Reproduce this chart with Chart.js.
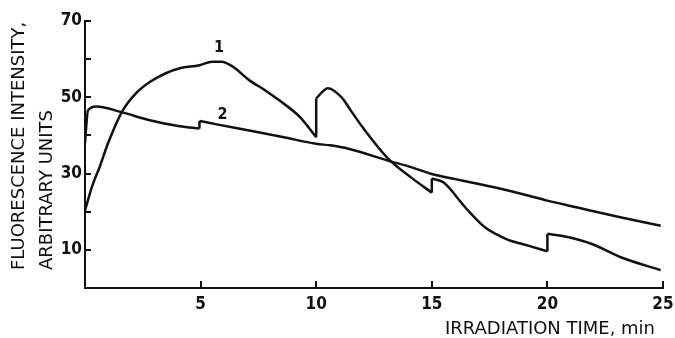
<!DOCTYPE html>
<html>
<head>
<meta charset="utf-8">
<script src="https://cdn.jsdelivr.net/npm/chart.js@4"></script>
<style>
  html, body { margin: 0; padding: 0; background: #fff; }
</style>
</head>
<body>
<canvas id="graficoFluorescencia" width="675" height="338"></canvas>
<script>
// curva 1 (x repetido = salto vertical)
const curva1X = [0, 0.3, 0.65, 1.0, 1.58, 2.2, 2.8, 3.5, 4.1, 4.95, 5.5, 5.9, 6.4, 7.1, 7.8, 8.4, 9.3, 10.0,
                 10.0, 10.5, 11.1, 11.5, 12.0, 13.1, 14.1, 15.0,
                 15.0, 15.5, 16.45, 17.3, 18.2, 19.2, 20.0,
                 20.0, 20.6, 21.9, 23.2, 24.9];
const curva1Y = [20.3, 26.5, 32, 38, 46, 51, 54, 56.3, 57.6, 58.4, 59.3, 59.3, 58, 54.5, 51.8, 49.2, 44.8, 39.5,
                 49.7, 52.4, 50, 46.5, 42.2, 34, 29, 25,
                 28.7, 27.7, 21.1, 15.9, 12.9, 11.05, 9.6,
                 14.2, 13.7, 11.6, 8, 4.7];

// curva 2
const curva2X = [0, 0.13, 0.5, 1.58, 2.8, 4.1, 4.95,
                 4.95, 5.7, 7.1, 8.55, 10.0, 10.6, 11.4, 13.1, 14.1, 15.0, 16.3, 17.7, 19.2, 20.0, 21.3, 23.2, 24.9];
const curva2Y = [38, 46.6, 47.6, 46.1, 44, 42.4, 41.8,
                 43.8, 42.9, 41.3, 39.6, 37.8, 37.4, 36.5, 33.4, 31.7, 29.9, 28.2, 26.4, 24.2, 22.9, 21.1, 18.5, 16.3];

// rotulos das curvas
const rotulos = ['1', '2'];
const rotulosX = [5.8, 5.95];
const rotulosY = [63, 45.5];

const ticksX = [5, 10, 15, 20, 25];
const ticksY = [10, 20, 30, 40, 50, 60, 70];
const ticksYRotulados = [10, 30, 50, 70];

const tituloY = ['FLUORESCENCE INTENSITY,', 'ARBITRARY UNITS'];
const tituloX = 'IRRADIATION TIME, min';

// divide a curva em trechos continuos + segmentos verticais dos saltos
function trechos(xs, ys) {
    const partes = [];
    const saltos = [];
    let atual = [];
    for (let i = 0; i < xs.length; i++) {
        if (i > 0 && xs[i] === xs[i - 1]) {
            partes.push(atual);
            saltos.push([{ x: xs[i - 1], y: ys[i - 1] }, { x: xs[i], y: ys[i] }]);
            atual = [];
        }
        atual.push({ x: xs[i], y: ys[i] });
    }
    partes.push(atual);
    return { partes, saltos };
}

function datasetsDaCurva(xs, ys) {
    const t = trechos(xs, ys);
    const base = { showLine: true, borderColor: '#111', borderWidth: 2.5, pointRadius: 0 };
    return t.partes.map(p => Object.assign({ data: p, cubicInterpolationMode: 'monotone' }, base))
        .concat(t.saltos.map(s => Object.assign({ data: s, tension: 0 }, base)));
}

const fonteEixo = '"DejaVu Sans Condensed", "DejaVu Sans", sans-serif';

const textosPlugin = {
    id: 'textos',
    afterDraw(chart) {
        const ctx = chart.ctx;
        const sx = chart.scales.x;
        const sy = chart.scales.y;
        const area = chart.chartArea;
        ctx.save();
        ctx.strokeStyle = '#111';
        ctx.fillStyle = '#111';
        ctx.lineWidth = 2;

        // marcas para dentro
        ctx.beginPath();
        ticksY.forEach(v => {
            const py = Math.round(sy.getPixelForValue(v));
            ctx.moveTo(area.left, py);
            ctx.lineTo(area.left + 6, py);
        });
        ticksX.forEach(v => {
            const px = Math.round(sx.getPixelForValue(v));
            ctx.moveTo(px, area.bottom);
            ctx.lineTo(px, area.bottom - 7);
        });
        ctx.stroke();

        // titulo do eixo y (duas linhas, rotacionado)
        ctx.font = '18px "DejaVu Sans", sans-serif';
        ctx.textAlign = 'left';
        ctx.textBaseline = 'middle';
        ctx.save();
        ctx.translate(19, 270);
        ctx.rotate(-Math.PI / 2);
        ctx.fillText(tituloY[0], 0, 0, 250);
        ctx.restore();
        ctx.save();
        ctx.translate(47.5, 270);
        ctx.rotate(-Math.PI / 2);
        ctx.fillText(tituloY[1], 0, 0, 163);
        ctx.restore();

        // titulo do eixo x
        ctx.fillText(tituloX, 445, 329, 210);

        // numeros das curvas
        ctx.font = 'bold 16px ' + fonteEixo;
        ctx.textAlign = 'center';
        for (let i = 0; i < rotulos.length; i++) {
            ctx.fillText(rotulos[i], sx.getPixelForValue(rotulosX[i]), sy.getPixelForValue(rotulosY[i]));
        }
        ctx.restore();
    }
};

function graficoFluorescencia() {
    const ctx = document.getElementById('graficoFluorescencia');

    new Chart(ctx, {
        type: 'scatter',
        data: {
            datasets: datasetsDaCurva(curva1X, curva1Y).concat(datasetsDaCurva(curva2X, curva2Y))
        },
        options: {
            responsive: false,
            animation: false,
            devicePixelRatio: 1,
            layout: { padding: { top: 21, right: 0, left: 0, bottom: 0 } },
            plugins: {
                legend: { display: false },
                tooltip: { enabled: false }
            },
            scales: {
                x: {
                    type: 'linear',
                    min: 0,
                    max: 25,
                    afterFit(scale) {
                        scale.height = 50;
                        scale.paddingRight = 12;
                    },
                    ticks: {
                        stepSize: 5,
                        color: '#111',
                        padding: 6,
                        maxRotation: 0,
                        font: { family: fonteEixo, size: 17, weight: 'bold' },
                        callback: v => ticksX.includes(v) ? String(v) : ''
                    },
                    grid: { display: false, drawTicks: false },
                    border: { color: '#111', width: 2 }
                },
                y: {
                    type: 'linear',
                    min: 0,
                    max: 70,
                    afterFit(scale) { scale.width = 85; },
                    ticks: {
                        stepSize: 10,
                        color: '#111',
                        padding: 3,
                        font: { family: fonteEixo, size: 17, weight: 'bold' },
                        callback: v => ticksYRotulados.includes(v) ? String(v) : ''
                    },
                    grid: { display: false, drawTicks: false },
                    border: { color: '#111', width: 2 }
                }
            }
        },
        plugins: [textosPlugin]
    });
}

graficoFluorescencia();
</script>
</body>
</html>
